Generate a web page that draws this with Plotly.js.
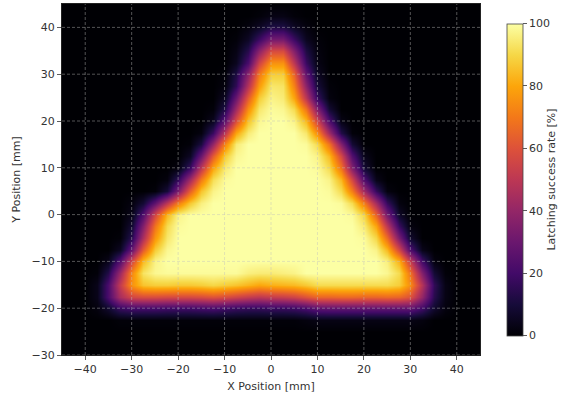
<!DOCTYPE html>
<html>
<head>
<meta charset="utf-8">
<script src="https://cdn.plot.ly/plotly-3.0.1.min.js"></script>
<style>html,body{margin:0;padding:0;background:#fff;}#chart{width:569px;height:393px;}</style>
</head>
<body>
<div id="chart"></div>
<script>
// grid positions (mm), 2.5 mm spacing
const xPos = [-45,-42.5,-40,-37.5,-35,-32.5,-30,-27.5,-25,-22.5,-20,-17.5,-15,-12.5,-10,-7.5,-5,-2.5,0,
              2.5,5,7.5,10,12.5,15,17.5,20,22.5,25,27.5,30,32.5,35,37.5,40,42.5,45];
const yPos = [-30,-27.5,-25,-22.5,-20,-17.5,-15,-12.5,-10,-7.5,-5,-2.5,0,2.5,5,7.5,10,12.5,15,17.5,
              20,22.5,25,27.5,30,32.5,35,37.5,40,42.5,45];
// latching success rate [%], one row per yPos value
const rate = [
  /* -30  */ [0,0,0,0,0, 0,0,0,0,0, 0,0,0,0,0, 0,0,0,0,0, 0,0,0,0,0, 0,0,0,0,0, 0,0,0,0,0, 0,0],
  /* -27.5*/ [0,0,0,0,0, 0,0,0,0,0, 0,0,0,0,0, 0,0,0,0,0, 0,0,0,0,0, 0,0,0,0,0, 0,0,0,0,0, 0,0],
  /* -25  */ [0,0,0,0,0, 0,0,0,0,0, 0,0,0,0,0, 0,0,0,0,0, 0,0,0,0,0, 0,0,0,0,0, 0,0,0,0,0, 0,0],
  /* -22.5*/ [0,0,0,0,0, 1,1,1,1,1, 1,1,1,1,1, 1,1,1,1,1, 1,2,3,3,3, 3,3,3,3,3, 3,2,0,0,0, 0,0],
  /* -20  */ [0,0,0,2,8, 18,21,21,21,20, 20,20,21,22,20, 18,17,17,18,18, 19,22,27,28,28, 28,28,28,28,28, 28,20,8,2,0, 0,0],
  /* -17.5*/ [0,0,0,4,22, 45,56,58,58,57, 57,57,58,60,58, 55,52,50,52,53, 55,60,65,65,66, 66,65,65,66,65, 60,40,14,3,0, 0,0],
  /* -15  */ [0,0,0,4,22, 52,76,86,88,88, 87,87,88,90,88, 86,83,80,82,83, 84,87,91,91,91, 91,91,91,91,88, 75,48,16,3,0, 0,0],
  /* -12.5*/ [0,0,0,1,13, 42,74,93,98,99, 99,99,99,99,99, 99,96,95,95,96, 97,100,100,100,100, 100,100,100,98,91, 69,36,9,1,0, 0,0],
  /* -10  */ [0,0,0,0,4, 24,57,84,97,100, 100,100,100,100,100, 100,100,100,100,100, 100,100,100,100,100, 100,100,100,96,82, 53,20,2,0,0, 0,0],
  /* -7.5 */ [0,0,0,0,0, 6,30,63,88,98, 100,100,100,100,100, 100,100,100,100,100, 100,100,100,100,100, 100,100,97,84,57, 24,4,0,0,0, 0,0],
  /* -5   */ [0,0,0,0,0, 1,15,46,77,94, 100,100,100,100,100, 100,100,100,100,100, 100,100,100,100,100, 100,99,90,67,34, 8,0,0,0,0, 0,0],
  /* -2.5 */ [0,0,0,0,0, 0,9,36,69,91, 99,100,100,100,100, 100,100,100,100,100, 100,100,100,100,100, 100,95,80,50,18, 2,0,0,0,0, 0,0],
  /* 0    */ [0,0,0,0,0, 0,4,24,57,84, 97,100,100,100,100, 100,100,100,100,100, 100,100,100,100,100, 99,90,65,33,7, 0,0,0,0,0, 0,0],
  /* 2.5  */ [0,0,0,0,0, 0,2,9,27,50, 71,87,96,100,100, 100,100,100,100,100, 100,100,100,100,99, 91,71,44,17,2, 0,0,0,0,0, 0,0],
  /* 5    */ [0,0,0,0,0, 0,0,0,1,10, 34,64,86,97,100, 100,100,100,100,100, 100,100,100,99,91, 71,43,17,2,0, 0,0,0,0,0, 0,0],
  /* 7.5  */ [0,0,0,0,0, 0,0,0,0,2, 17,44,71,92,99, 100,100,100,100,100, 100,100,100,97,84, 57,24,4,0,0, 0,0,0,0,0, 0,0],
  /* 10   */ [0,0,0,0,0, 0,0,0,0,0, 2,18,50,80,95, 100,100,100,100,100, 100,100,99,91,69, 36,9,0,0,0, 0,0,0,0,0, 0,0],
  /* 12.5 */ [0,0,0,0,0, 0,0,0,0,0, 0,6,30,63,88, 98,100,100,100,100, 100,100,97,84,57, 24,4,0,0,0, 0,0,0,0,0, 0,0],
  /* 15   */ [0,0,0,0,0, 0,0,0,0,0, 0,1,11,40,73, 95,100,100,100,100, 100,99,91,69,36, 9,0,0,0,0, 0,0,0,0,0, 0,0],
  /* 17.5 */ [0,0,0,0,0, 0,0,0,0,0, 0,0,2,18,50, 80,95,100,100,100, 100,94,75,43,13, 1,0,0,0,0, 0,0,0,0,0, 0,0],
  /* 20   */ [0,0,0,0,0, 0,0,0,0,0, 0,0,0,5,27, 59,86,98,100,100, 97,84,56,23,3, 0,0,0,0,0, 0,0,0,0,0, 0,0],
  /* 22.5 */ [0,0,0,0,0, 0,0,0,0,0, 0,0,0,1,13, 43,75,94,99,98, 91,69,36,9,0, 0,0,0,0,0, 0,0,0,0,0, 0,0],
  /* 25   */ [0,0,0,0,0, 0,0,0,0,0, 0,0,0,0,6, 30,63,88,97,95, 80,50,18,2,0, 0,0,0,0,0, 0,0,0,0,0, 0,0],
  /* 27.5 */ [0,0,0,0,0, 0,0,0,0,0, 0,0,0,0,2, 16,48,78,94,93, 72,38,10,1,0, 0,0,0,0,0, 0,0,0,0,0, 0,0],
  /* 30   */ [0,0,0,0,0, 0,0,0,0,0, 0,0,0,0,1, 12,38,70,88,88, 65,28,6,0,0, 0,0,0,0,0, 0,0,0,0,0, 0,0],
  /* 32.5 */ [0,0,0,0,0, 0,0,0,0,0, 0,0,0,0,0, 5,22,55,76,76, 50,18,3,0,0, 0,0,0,0,0, 0,0,0,0,0, 0,0],
  /* 35   */ [0,0,0,0,0, 0,0,0,0,0, 0,0,0,0,0, 3,14,38,58,58, 36,12,2,0,0, 0,0,0,0,0, 0,0,0,0,0, 0,0],
  /* 37.5 */ [0,0,0,0,0, 0,0,0,0,0, 0,0,0,0,0, 1,6,18,32,32, 18,5,1,0,0, 0,0,0,0,0, 0,0,0,0,0, 0,0],
  /* 40   */ [0,0,0,0,0, 0,0,0,0,0, 0,0,0,0,0, 0,2,6,12,12, 6,2,0,0,0, 0,0,0,0,0, 0,0,0,0,0, 0,0],
  /* 42.5 */ [0,0,0,0,0, 0,0,0,0,0, 0,0,0,0,0, 0,0,1,3,3, 1,0,0,0,0, 0,0,0,0,0, 0,0,0,0,0, 0,0],
  /* 45   */ [0,0,0,0,0, 0,0,0,0,0, 0,0,0,0,0, 0,0,0,0,0, 0,0,0,0,0, 0,0,0,0,0, 0,0,0,0,0, 0,0]
];
const xTicks = [-40,-30,-20,-10,0,10,20,30,40];
const yTicks = [-30,-20,-10,0,10,20,30,40];
const cbTicks = [0,20,40,60,80,100];

const inferno = [
  [0.0,'#000004'],[0.1,'#160b39'],[0.2,'#420a68'],[0.3,'#6a176e'],
  [0.4,'#932667'],[0.5,'#bc3754'],[0.6,'#dd513a'],[0.7,'#f37819'],
  [0.8,'#fca50a'],[0.9,'#f6d746'],[1.0,'#fcffa4']
];

const font = {family:'DejaVu Sans, sans-serif', size:11, color:'#333'};

const gridLine = {color:'rgba(190,190,190,0.55)', width:0.8, dash:'3px,2px'};
const shapes = [];
xTicks.forEach(v => shapes.push({type:'line', xref:'x', yref:'paper', x0:v, x1:v, y0:0, y1:1, layer:'above', line:gridLine}));
yTicks.forEach(v => shapes.push({type:'line', xref:'paper', yref:'y', x0:0, x1:1, y0:v, y1:v, layer:'above', line:gridLine}));

const trace = {
  type:'heatmap', x:xPos, y:yPos, z:rate, zmin:0, zmax:100,
  zsmooth:'best', colorscale:inferno, hoverinfo:'skip',
  colorbar:{
    x:1.064, xanchor:'left', y:0.5, yanchor:'middle',
    thickness:16, len:312, lenmode:'pixels', xpad:0, ypad:0,
    outlinecolor:'#444', outlinewidth:0.8,
    tickvals:cbTicks, ticks:'outside', ticklen:4, tickcolor:'#333', tickwidth:0.8,
    tickfont:font,
    title:{text:'Latching success rate [%]', side:'right', font:font}
  }
};

const layout = {
  width:569, height:393,
  margin:{l:62, r:89, t:4, b:38},
  paper_bgcolor:'#fff', plot_bgcolor:'#000',
  font:font,
  xaxis:{range:[-45,45], tickvals:xTicks, ticks:'outside', ticklen:4, tickcolor:'#333', tickwidth:0.8,
    showgrid:false, zeroline:false, showline:true, linecolor:'#222', linewidth:1, mirror:true,
    title:{text:'X Position [mm]', font:font, standoff:7}, tickfont:font},
  yaxis:{range:[-30,45], tickvals:yTicks, ticks:'outside', ticklen:4, tickcolor:'#333', tickwidth:0.8,
    showgrid:false, zeroline:false, showline:true, linecolor:'#222', linewidth:1, mirror:true,
    title:{text:'Y Position [mm]', font:font, standoff:8}, tickfont:font},
  shapes:shapes
};

Plotly.newPlot('chart', [trace], layout, {displayModeBar:false, staticPlot:true});
</script>
</body>
</html>
